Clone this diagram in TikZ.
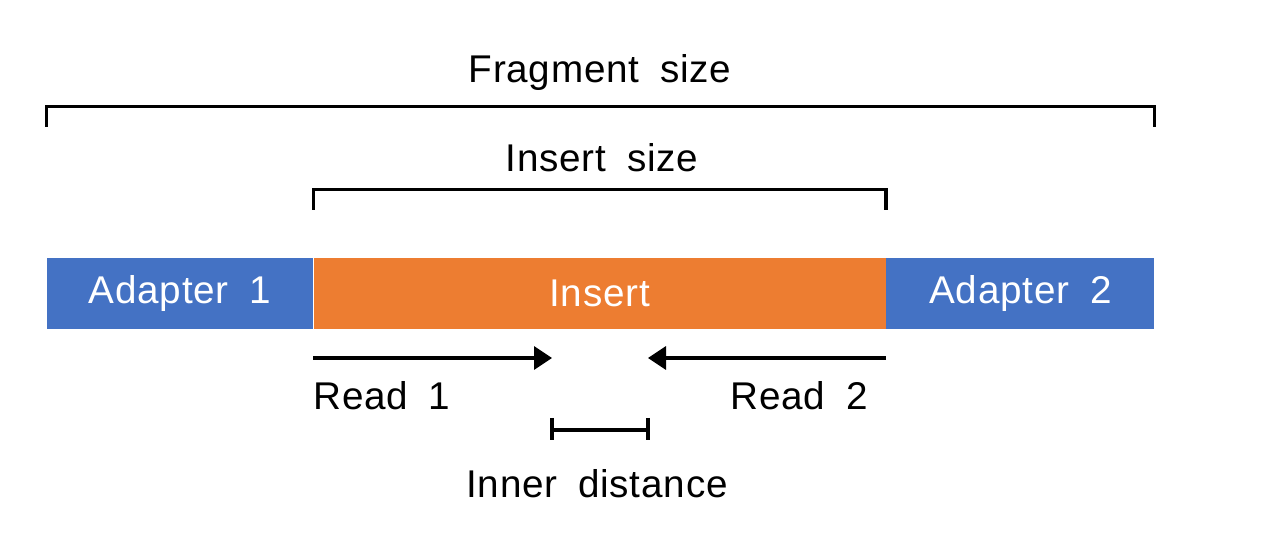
\documentclass[tikz,border=0pt]{standalone}
\usepackage{fontspec}
\setmainfont{Liberation Sans}[LetterSpace=2, WordSpace=1.8]
\usetikzlibrary{positioning,arrows.meta}
\definecolor{adapterblue}{HTML}{4472C4}
\definecolor{insertorange}{HTML}{ED7D31}
\tikzset{
	block/.style={minimum height=1.42cm, inner sep=0pt, text=white, font=\fontsize{22}{26}\selectfont},
	lbl/.style={inner sep=0pt, font=\fontsize{22}{26}\selectfont},
	bracket/.style={line width=1.9pt},
	readarrow/.style={line width=1.9pt, -{Triangle[length=0.36cm, width=0.46cm]}}
}
\begin{document}
\begin{tikzpicture}[node distance=0pt]
	\useasboundingbox (0,0) rectangle (25.32,-11.04);

	% Fragment
	\node[block, fill=adapterblue, minimum width=5.32cm] (adapter1) at (3.60,-5.87) {Adapter 1};
	\node[block, fill=insertorange, minimum width=11.44cm, right=of adapter1] (insert) {Insert};
	\node[block, fill=adapterblue, minimum width=5.36cm, right=of insert] (adapter2) {Adapter 2};

	% Brackets
	\draw[bracket] ([yshift=2.62cm]adapter1.north west) -- ++(0,0.4) -| ([yshift=2.62cm]adapter2.north east);
	\node[lbl] (fragsize) at (12.0,-1.46) {Fragment size};
	\draw[bracket] ([yshift=0.96cm]insert.north west) -- ++(0,0.4) -| ([yshift=0.96cm]insert.north east);
	\node[lbl] (inssize) at (12.04,-3.16) {Insert size};

	% Reads
	\coordinate (r1end) at (11.04,-7.16);
	\coordinate (r2end) at (12.96,-7.16);
	\draw[readarrow] (insert.south west |- r1end) -- (r1end);
	\draw[readarrow] (insert.south east |- r2end) -- (r2end);
	\node[lbl, anchor=west] (read1) at (6.26,-7.92) {Read 1};
	\node[lbl, anchor=east] (read2) at (17.36,-7.92) {Read 2};

	% Inner distance
	\draw[bracket] (r1end |- 0,-8.36) -- ++(0,-0.44);
	\draw[bracket] (r2end |- 0,-8.36) -- ++(0,-0.44);
	\draw[bracket] (r1end |- 0,-8.6) -- (r2end |- 0,-8.6);
	\node[lbl] (inner) at (11.94,-9.68) {Inner distance};

\end{tikzpicture}
\end{document}
